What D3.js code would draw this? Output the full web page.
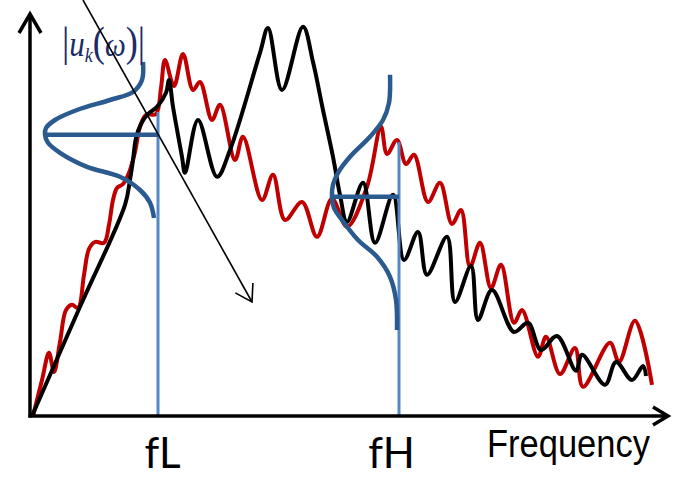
<!DOCTYPE html>
<html>
<head>
<meta charset="utf-8">
<script src="https://cdn.jsdelivr.net/npm/d3@7"></script>
<style>
  body { margin: 0; background: #fff; }
  svg { display: block; }
</style>
</head>
<body>
<svg></svg>
<script>
const width = 676, height = 482;

// schematic units: frequency 0..62, magnitude 0..100
// spectrum of the signal (black)
const black_curve = [[0,0],[4.8,27.3],[9.3,52.8],[9.8,59],[10.1,64],[10.4,69.5],[10.9,73],[11.6,75.5],
  [12.5,77.3],[13.4,80.8],[13.7,84],[14.1,77.3],[15.0,64.8],[15.3,60.8],[16.6,74],[18.5,59.8],
  [19.8,66.5],[22.8,90.8],[23.6,97],[25.0,81.5],[27.1,97.3],[28.1,88.5],[29.1,76.5],[30.1,64.8],
  [30.8,55.3],[31.5,48.5],[33.1,58.3],[34.3,43.3],[36.1,55.3],[37.2,39],[38.6,46],[39.5,35.3],
  [41.5,44.8],[42.3,28.5],[43.9,37.5],[44.6,24],[46.0,31.5],[48.2,21],[49.6,23.3],[50.9,16.5],
  [52.5,20],[54.4,11.3],[55.0,15.3],[57.3,7.8],[58.4,13.5],[60.0,9],[61.1,12.5],[61.4,10]];

// spectrum of the second signal (red)
const red_curve = [[0.1,0],[1.0,9],[1.7,15.8],[2.2,11],[2.8,18.5],[3.4,26.5],[4.0,27.8],[4.6,27],
  [5.2,35.3],[5.7,41.8],[6.3,43.5],[7.2,43.3],[7.7,47.8],[8.1,54],[8.5,57],[9.1,58],[9.7,60.8],
  [10.3,66],[10.8,72.3],[11.4,75.3],[12.4,75.5],[12.9,82],[13.3,89],[14.2,82.5],[15.1,90.5],
  [16.1,81.5],[16.8,83.5],[18.0,74],[18.8,77.8],[20.3,64],[21.1,69.8],[23.0,54],[24.1,60.3],
  [25.3,49],[27.0,53.5],[28.5,44.8],[30.0,54.3],[31.5,47.3],[33.5,57.3],[34.9,72.3],[35.5,65.5],
  [36.5,69],[37.4,63],[38.2,65.3],[39.6,53.5],[40.8,58.3],[42.0,48],[42.9,51.5],[43.8,37.3],
  [44.8,43.3],[45.9,32],[46.9,37.8],[48.2,23.3],[49.0,26.5],[50.6,14.8],[51.4,19.8],[52.8,10.5],
  [54.3,17],[55.1,7.3],[57.8,18.3],[58.7,13.5],[60.3,23.8],[62.0,7.8]];

// band edges
const cutoff_labels = ["fL", "fH"];
const cutoff_freq = [12.6, 36.7];
const cutoff_top = [76, 68.5];

// window shapes around the band edges (sideways bells)
const window_low = [[11.1,88.5],[11.0,84],[10.1,81],[7.8,79],[4.5,76.5],[2.3,74],[1.4,72],[1.3,70.3],
  [1.6,68.3],[2.8,65.8],[5.5,62.3],[8.8,59.8],[10.8,56.5],[11.8,53.3],[12.2,49.5]];
const window_high = [[35.8,85.3],[35.7,78.3],[35.1,74],[33.8,69.8],[31.8,64.8],[30.6,60.8],[30.1,57.8],
  [30.0,54.8],[30.2,52],[31.0,49],[32.6,44],[34.5,39.8],[35.8,34.8],[36.4,29],[36.5,21.5]];
const window_level = [70.3, 54.8];
const window_from = [1.3, 30.0];

// pointer arrow
const pointer = [[5.1,104],[22.0,28.5]];

let svg = d3.select("svg").attr("width", width).attr("height", height);

let x = d3.scaleLinear().domain([0, 62]).range([32, 652]);
let y = d3.scaleLinear().domain([0, 100]).range([416, 16]);

let smooth = d3.line()
  .x(d => x(d[0]))
  .y(d => y(d[1]))
  .curve(d3.curveCatmullRom.alpha(0.5));

// red then black spectrum
svg.append("path").attr("d", smooth(red_curve))
  .attr("fill", "none").attr("stroke", "#c00000").attr("stroke-width", 4)
  .attr("stroke-linejoin", "round");
svg.append("path").attr("d", smooth(black_curve))
  .attr("fill", "none").attr("stroke", "#000").attr("stroke-width", 4)
  .attr("stroke-linejoin", "round");

// band edge markers
svg.append("g").selectAll("line")
  .data(cutoff_freq)
  .enter().append("line")
  .attr("x1", d => x(d)).attr("x2", d => x(d))
  .attr("y1", (d, i) => y(cutoff_top[i])).attr("y2", y(0))
  .attr("stroke", "#5489c8").attr("stroke-width", 3);

// windows
[window_low, window_high].forEach((w, i) => {
  svg.append("path").attr("d", smooth(w))
    .attr("fill", "none").attr("stroke", "#2a5a8e").attr("stroke-width", 4.5)
    .attr("stroke-linecap", "butt");
  svg.append("line")
    .attr("x1", x(window_from[i])).attr("x2", x(cutoff_freq[i]))
    .attr("y1", y(window_level[i])).attr("y2", y(window_level[i]))
    .attr("stroke", "#2a5a8e").attr("stroke-width", 4.5);
});

// axes
let x0 = x(-0.2), y0 = y(0), xEnd = x(63.6), yEnd = y(100.5);
svg.append("line").attr("x1", x0).attr("y1", y0 + 1.5).attr("x2", x0).attr("y2", yEnd)
  .attr("stroke", "#000").attr("stroke-width", 3.5);
svg.append("line").attr("x1", x0 - 1.5).attr("y1", y0).attr("x2", xEnd).attr("y2", y0)
  .attr("stroke", "#000").attr("stroke-width", 3.5);
svg.append("path")
  .attr("d", `M${x0 - 11},${yEnd + 19}L${x0},${yEnd}L${x0 + 11},${yEnd + 19}`)
  .attr("fill", "none").attr("stroke", "#000").attr("stroke-width", 3.5);
svg.append("path")
  .attr("d", `M${xEnd - 15},${y0 - 9}L${xEnd},${y0}L${xEnd - 15},${y0 + 9}`)
  .attr("fill", "none").attr("stroke", "#000").attr("stroke-width", 3.5);

// band edge labels
let xAxis = d3.axisBottom(x)
  .tickValues(cutoff_freq)
  .tickFormat((d, i) => cutoff_labels[i])
  .tickSize(0)
  .tickPadding(22);

let gx = svg.append("g").attr("transform", "translate(0," + y0 + ")").call(xAxis);
gx.select(".domain").remove();
gx.selectAll("text")
  .attr("font-family", "Lato, 'Open Sans', sans-serif")
  .attr("font-size", 42)
  .attr("fill", "#000")
  .attr("dx", (d, i) => i == 0 ? 4 : -8);

svg.append("text")
  .attr("x", 487).attr("y", 457)
  .attr("font-family", "'Liberation Sans', Arial, sans-serif")
  .attr("font-size", 39)
  .attr("textLength", 163)
  .attr("lengthAdjust", "spacingAndGlyphs")
  .text("Frequency");

// |u_k(w)| label, one text run squeezed to the width of the original
let label = svg.append("text")
  .attr("font-family", "'Liberation Serif', 'DejaVu Serif', serif")
  .attr("fill", "#1c2c66")
  .attr("x", 62).attr("y", 56)
  .attr("textLength", 83)
  .attr("lengthAdjust", "spacingAndGlyphs");
label.append("tspan").attr("font-size", 42).text("|");
label.append("tspan").attr("font-size", 36).attr("font-style", "italic").text("u");
label.append("tspan").attr("dy", 6).attr("font-size", 21).attr("font-style", "italic").text("k");
label.append("tspan").attr("dy", -6).attr("font-size", 42).text("(");
label.append("tspan").attr("font-size", 34).attr("font-style", "italic").text("ω");
label.append("tspan").attr("font-size", 42).text(")|");

// pointer arrow
let p0 = [x(pointer[0][0]), y(pointer[0][1])], p1 = [x(pointer[1][0]), y(pointer[1][1])];
let ang = Math.atan2(p0[1] - p1[1], p0[0] - p1[0]);
let wing = 19, spread = 32 * Math.PI / 180;
svg.append("line")
  .attr("x1", p0[0]).attr("y1", p0[1]).attr("x2", p1[0]).attr("y2", p1[1])
  .attr("stroke", "#000").attr("stroke-width", 1.6);
svg.append("path")
  .attr("d", "M" + (p1[0] + wing * Math.cos(ang - spread)) + "," + (p1[1] + wing * Math.sin(ang - spread)) +
    "L" + p1[0] + "," + p1[1] +
    "L" + (p1[0] + wing * Math.cos(ang + spread)) + "," + (p1[1] + wing * Math.sin(ang + spread)))
  .attr("fill", "none").attr("stroke", "#000").attr("stroke-width", 1.6);
</script>
</body>
</html>
